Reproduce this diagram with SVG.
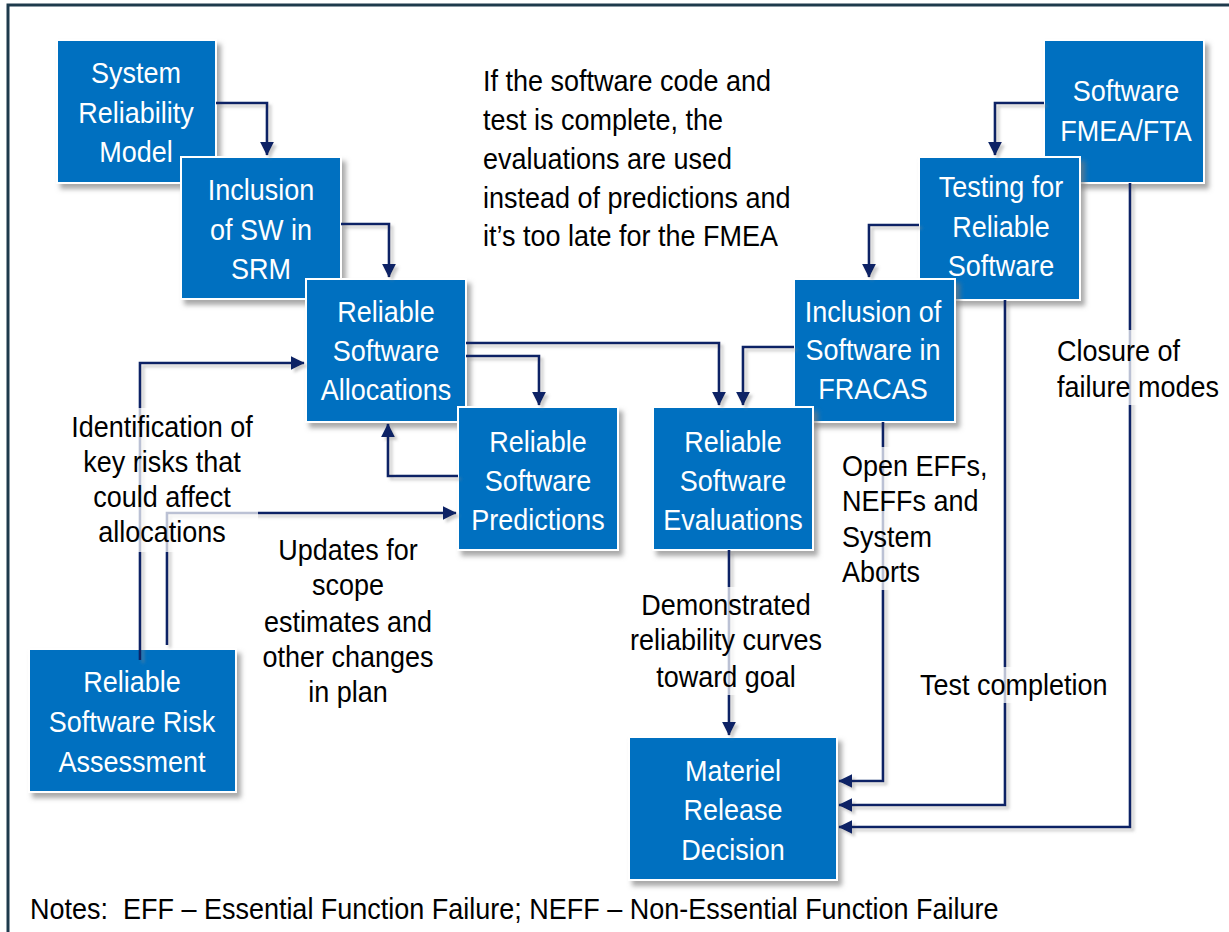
<svg xmlns="http://www.w3.org/2000/svg" width="1229" height="932" viewBox="0 0 1229 932">
<defs>
<style>
.box{fill:#0070C0;stroke:#ffffff;stroke-width:2;}
.bt{font-family:"Liberation Sans",Arial,sans-serif;font-size:30px;fill:#ffffff;text-anchor:middle;}
.lt{font-family:"Liberation Sans",Arial,sans-serif;font-size:30px;fill:#000000;}
.mid{text-anchor:middle;}
.cn{fill:none;stroke:#0B2465;stroke-width:2.6;}
.bg{fill:#ffffff;fill-opacity:0.72;}
</style>
<filter id="bsh" x="-10%" y="-10%" width="130%" height="130%">
<feDropShadow dx="4" dy="5" stdDeviation="2.5" flood-color="#7a7a7a" flood-opacity="0.65"/>
</filter>
<filter id="lsh" x="-5%" y="-5%" width="110%" height="110%">
<feDropShadow dx="3" dy="3" stdDeviation="1.5" flood-color="#8a8a8a" flood-opacity="0.45"/>
</filter>
<marker id="ah" viewBox="0 0 10 10" refX="9.5" refY="5" markerWidth="14" markerHeight="14" markerUnits="userSpaceOnUse" orient="auto">
<path d="M0,0 L10,5 L0,10 z" fill="#0B2465"/>
</marker>
</defs>
<rect x="0" y="0" width="1229" height="932" fill="#ffffff"/>
<rect x="8" y="5" width="1240" height="960" fill="none" stroke="#1E3A4C" stroke-width="3"/>

<g id="nodes">
<g id="n-srm"><rect class="box" x="57" y="40" width="159" height="143" filter="url(#bsh)"/>
<g transform="translate(136,0) scale(0.9,1)"><text class="bt"><tspan x="0" y="83">System</tspan><tspan x="0" y="123">Reliability</tspan><tspan x="0" y="162">Model</tspan></text></g></g>

<g id="n-incl-sw"><rect class="box" x="181" y="157" width="160" height="142" filter="url(#bsh)"/>
<g transform="translate(261,0) scale(0.9,1)"><text class="bt"><tspan x="0" y="200">Inclusion</tspan><tspan x="0" y="240">of SW in</tspan><tspan x="0" y="279">SRM</tspan></text></g></g>

<g id="n-alloc"><rect class="box" x="306" y="279" width="160" height="143" filter="url(#bsh)"/>
<g transform="translate(386,0) scale(0.9,1)"><text class="bt"><tspan x="0" y="322">Reliable</tspan><tspan x="0" y="361">Software</tspan><tspan x="0" y="400">Allocations</tspan></text></g></g>

<g id="n-pred"><rect class="box" x="458" y="407" width="160" height="143" filter="url(#bsh)"/>
<g transform="translate(538,0) scale(0.9,1)"><text class="bt"><tspan x="0" y="452">Reliable</tspan><tspan x="0" y="491">Software</tspan><tspan x="0" y="530">Predictions</tspan></text></g></g>

<g id="n-fmea"><rect class="box" x="1044" y="40" width="160" height="143" filter="url(#bsh)"/>
<g transform="translate(1126,0) scale(0.9,1)"><text class="bt"><tspan x="0" y="101">Software</tspan><tspan x="0" y="141">FMEA/FTA</tspan></text></g></g>

<g id="n-testing"><rect class="box" x="919" y="157" width="161" height="143" filter="url(#bsh)"/>
<g transform="translate(1001,0) scale(0.9,1)"><text class="bt"><tspan x="0" y="197">Testing for</tspan><tspan x="0" y="237">Reliable</tspan><tspan x="0" y="276">Software</tspan></text></g></g>

<g id="n-fracas"><rect class="box" x="794" y="279" width="161" height="143" filter="url(#bsh)"/>
<g transform="translate(873,0) scale(0.9,1)"><text class="bt"><tspan x="0" y="322">Inclusion of</tspan><tspan x="0" y="360">Software in</tspan><tspan x="0" y="399">FRACAS</tspan></text></g></g>

<g id="n-eval"><rect class="box" x="653" y="407" width="160" height="143" filter="url(#bsh)"/>
<g transform="translate(733,0) scale(0.9,1)"><text class="bt"><tspan x="0" y="452">Reliable</tspan><tspan x="0" y="491">Software</tspan><tspan x="0" y="530">Evaluations</tspan></text></g></g>

<g id="n-risk"><rect class="box" x="29" y="649" width="207" height="143" filter="url(#bsh)"/>
<g transform="translate(132,0) scale(0.9,1)"><text class="bt"><tspan x="0" y="692">Reliable</tspan><tspan x="0" y="732">Software Risk</tspan><tspan x="0" y="772">Assessment</tspan></text></g></g>

<g id="n-release"><rect class="box" x="629" y="737" width="208" height="143" filter="url(#bsh)"/>
<g transform="translate(733,0) scale(0.9,1)"><text class="bt"><tspan x="0" y="781">Materiel</tspan><tspan x="0" y="820">Release</tspan><tspan x="0" y="860">Decision</tspan></text></g></g>
</g>

<g id="connectors" filter="url(#lsh)">
<path class="cn" d="M216,103 H267 V155" marker-end="url(#ah)"/>
<path class="cn" d="M341,224 H389 V277" marker-end="url(#ah)"/>
<path class="cn" d="M466,356 H539 V405" marker-end="url(#ah)"/>
<path class="cn" d="M466,343 H719 V405" marker-end="url(#ah)"/>
<path class="cn" d="M794,347 H743 V405" marker-end="url(#ah)"/>
<path class="cn" d="M458,476 H388 V424" marker-end="url(#ah)"/>
<path class="cn" d="M140,660 V363 H304" marker-end="url(#ah)"/>
<path class="cn" d="M167,645 V513 H456" marker-end="url(#ah)"/>
<path class="cn" d="M729,550 V735" marker-end="url(#ah)"/>
<path class="cn" d="M883,422 V781 H839" marker-end="url(#ah)"/>
<path class="cn" d="M1005,300 V805 H839" marker-end="url(#ah)"/>
<path class="cn" d="M1130,183 V827 H839" marker-end="url(#ah)"/>
<path class="cn" d="M1044,103 H995 V155" marker-end="url(#ah)"/>
<path class="cn" d="M919,225 H869 V277" marker-end="url(#ah)"/>
</g>

<g id="labels">
<g transform="translate(483,0) scale(0.9,1)"><text class="lt"><tspan x="0" y="91">If the software code and</tspan><tspan x="0" y="130">test is complete, the</tspan><tspan x="0" y="169">evaluations are used</tspan><tspan x="0" y="208">instead of predictions and</tspan><tspan x="0" y="246">it’s too late for the FMEA</tspan></text></g>

<rect class="bg" x="68" y="408" width="190" height="144"/>
<g transform="translate(162,0) scale(0.9,1)"><text class="lt mid"><tspan x="0" y="437">Identification of</tspan><tspan x="0" y="472">key risks that</tspan><tspan x="0" y="507">could affect</tspan><tspan x="0" y="542">allocations</tspan></text></g>

<g transform="translate(348,0) scale(0.9,1)"><text class="lt mid"><tspan x="0" y="560">Updates for</tspan><tspan x="0" y="595">scope</tspan><tspan x="0" y="632">estimates and</tspan><tspan x="0" y="667">other changes</tspan><tspan x="0" y="702">in plan</tspan></text></g>

<rect class="bg" x="628" y="587" width="196" height="108"/>
<g transform="translate(726,0) scale(0.9,1)"><text class="lt mid"><tspan x="0" y="615">Demonstrated</tspan><tspan x="0" y="650">reliability curves</tspan><tspan x="0" y="687">toward goal</tspan></text></g>

<rect class="bg" x="840" y="447" width="152" height="143"/>
<g transform="translate(842,0) scale(0.9,1)"><text class="lt"><tspan x="0" y="476">Open EFFs,</tspan><tspan x="0" y="511">NEFFs and</tspan><tspan x="0" y="547">System</tspan><tspan x="0" y="582">Aborts</tspan></text></g>

<rect class="bg" x="918" y="667" width="190" height="36"/>
<g transform="translate(920,0) scale(0.9,1)"><text class="lt"><tspan x="0" y="695">Test completion</tspan></text></g>

<rect class="bg" x="1053" y="330" width="169" height="75"/>
<g transform="translate(1057,0) scale(0.9,1)"><text class="lt"><tspan x="0" y="361">Closure of</tspan><tspan x="0" y="397">failure modes</tspan></text></g>

<g transform="translate(30,0) scale(0.9,1)"><text class="lt"><tspan x="0" y="919" xml:space="preserve">Notes:  EFF – Essential Function Failure; NEFF – Non-Essential Function Failure</tspan></text></g>
</g>
</svg>
